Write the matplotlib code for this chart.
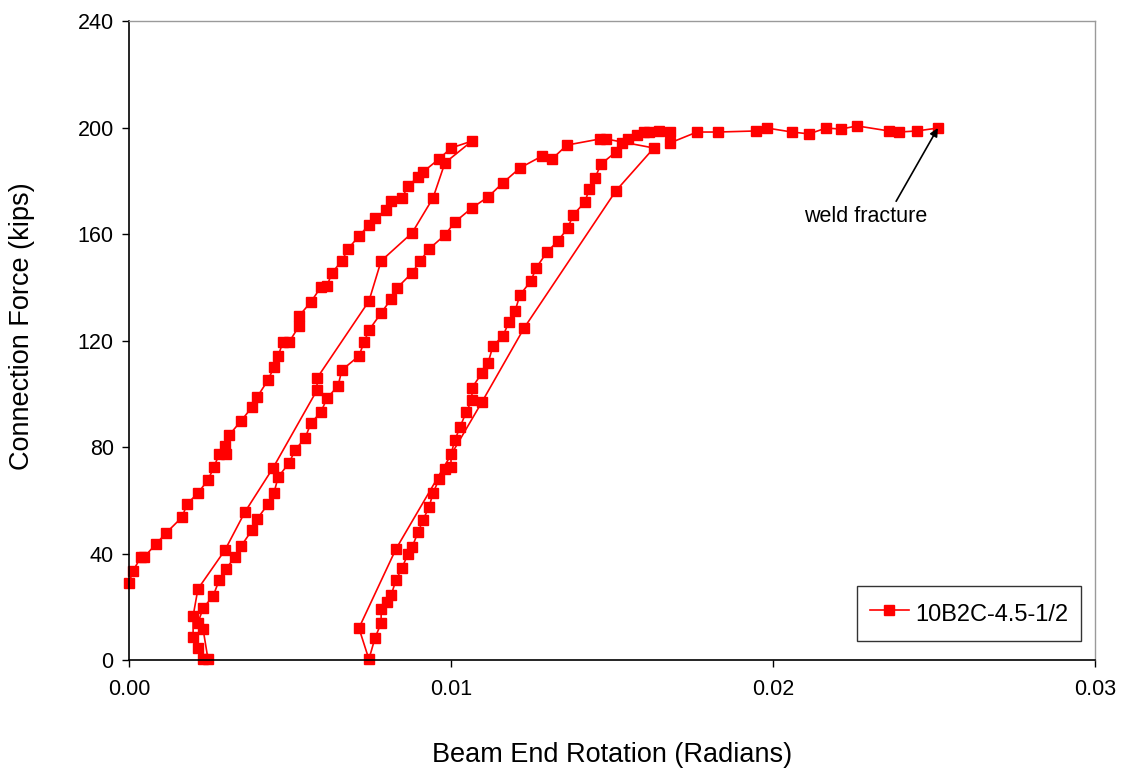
import matplotlib
matplotlib.use("Agg")
import matplotlib.pyplot as plt

# beam end rotation (rad) and connection force (kips)
rotation = [
    0.0, 0.00012, 0.00037, 0.00047, 0.00084, 0.00115, 0.00165, 0.00180, 0.00214, 0.00245,
    0.00264, 0.00280, 0.00301, 0.00298, 0.00311, 0.00348, 0.00382, 0.00398, 0.00432, 0.00450,
    0.00463, 0.00478, 0.00497, 0.00528, 0.00528, 0.00565, 0.00596, 0.00615, 0.00630, 0.00661,
    0.00680, 0.00714, 0.00745, 0.00764, 0.00798, 0.00814, 0.00848, 0.00866, 0.00898, 0.00913,
    0.00963, 0.01000, 0.01065,
    # unload 1
    0.00981, 0.00944, 0.00879, 0.00783, 0.00745, 0.00584, 0.00584, 0.00447, 0.00360, 0.00298,
    0.00214, 0.00199, 0.00199, 0.00214, 0.00230,
    # reload 2
    0.00245, 0.00230, 0.00214, 0.00230, 0.00261, 0.00280, 0.00301, 0.00329, 0.00348, 0.00382,
    0.00398, 0.00432, 0.00450, 0.00463, 0.00497, 0.00516, 0.00547, 0.00565, 0.00596, 0.00615,
    0.00649, 0.00661, 0.00714, 0.00730, 0.00745, 0.00783, 0.00814, 0.00832, 0.00879, 0.00904,
    0.00932, 0.00981, 0.01012, 0.01065, 0.01115, 0.01161, 0.01214, 0.01283, 0.01314, 0.01360,
    0.01463, 0.01481,
    # unload 2
    0.01630, 0.01512, 0.01227, 0.01096, 0.00829, 0.00714, 0.00745,
    # reload 3 and run to fracture
    0.00764, 0.00783, 0.00783, 0.00801, 0.00814, 0.00829, 0.00848, 0.00866, 0.00879, 0.00898,
    0.00913, 0.00932, 0.00944, 0.00963, 0.00981, 0.01000, 0.01000, 0.01012, 0.01028, 0.01047,
    0.01065, 0.01065, 0.01096, 0.01115, 0.01130, 0.01161, 0.01180, 0.01199, 0.01214, 0.01248,
    0.01264, 0.01298, 0.01332, 0.01363, 0.01379, 0.01416, 0.01429, 0.01447, 0.01466, 0.01512,
    0.01531, 0.01550, 0.01578, 0.01599, 0.01615, 0.01646, 0.01680, 0.01680, 0.01764, 0.01829,
    0.01947, 0.01981, 0.02059, 0.02112, 0.02165, 0.02211, 0.02261, 0.02360, 0.02391, 0.02447,
    0.02512,
]

force = [
    28.9, 33.4, 38.7, 38.7, 43.6, 47.7, 53.7, 58.6, 62.7, 67.6,
    72.5, 77.4, 77.4, 80.4, 84.5, 89.8, 95.0, 98.8, 105.2, 110.0,
    114.2, 119.4, 119.4, 125.4, 129.2, 134.5, 140.1, 140.5, 145.4, 149.9,
    154.4, 159.2, 163.4, 166.0, 169.0, 172.4, 173.5, 178.0, 181.4, 183.3,
    188.2, 192.3, 194.9,
    186.7, 173.5, 160.4, 149.9, 134.8, 105.9, 101.4, 72.1, 55.6, 41.3,
    26.7, 16.5, 8.6, 4.5, 0.5,
    0.5, 11.6, 13.9, 19.5, 24.0, 30.0, 34.2, 38.7, 42.8, 48.8,
    53.0, 58.6, 62.7, 68.7, 74.0, 78.9, 83.4, 89.0, 93.1, 98.4,
    102.9, 108.9, 114.2, 119.4, 123.9, 130.3, 135.6, 139.7, 145.4, 149.9,
    154.4, 159.6, 164.5, 169.8, 173.9, 179.2, 184.8, 189.3, 188.2, 193.4,
    195.7, 195.7,
    192.3, 176.2, 124.7, 96.9, 41.7, 12.0, 0.3,
    8.3, 13.9, 19.2, 21.8, 24.4, 30.0, 34.6, 39.8, 42.4, 48.1,
    52.6, 57.5, 62.7, 68.0, 71.7, 72.5, 77.4, 82.6, 87.5, 93.1,
    97.7, 102.2, 107.8, 111.5, 117.9, 121.7, 126.9, 131.1, 137.1, 142.3,
    147.2, 153.2, 157.4, 162.3, 167.1, 172.0, 176.9, 181.0, 186.3, 190.8,
    194.2, 195.7, 197.2, 198.3, 198.3, 198.7, 198.3, 194.2, 198.3, 198.3,
    198.7, 199.8, 198.3, 197.6, 199.8, 199.4, 200.6, 198.7, 198.3, 198.7,
    199.8,
]

x_ticks = [0.0, 0.01, 0.02, 0.03]
x_ticklabels = ["0.00", "0.01", "0.02", "0.03"]
y_ticks = [0, 40, 80, 120, 160, 200, 240]
series_name = "10B2C-4.5-1/2"

plt.rcParams["font.family"] = ["Liberation Sans", "DejaVu Sans"]

fig = plt.figure(figsize=(11.21, 7.69), dpi=100)
ax = fig.add_axes([0.1151, 0.1417, 0.8617, 0.8310])

ax.plot(rotation, force, color="#ff0000", linewidth=1.2, marker="s",
        markersize=7, markerfacecolor="#ff0000", markeredgecolor="#ff0000",
        label=series_name, clip_on=False)

ax.set_xlim(0, 0.03)
ax.set_ylim(0, 240)
ax.set_xticks(x_ticks)
ax.set_xticklabels(x_ticklabels)
ax.set_yticks(y_ticks)
ax.tick_params(direction="out", length=5, width=1, labelsize=15.5)
ax.tick_params(axis="x", pad=9)
ax.tick_params(axis="y", pad=6)

for side in ("top", "right"):
    ax.spines[side].set_color("#9a9a9a")
    ax.spines[side].set_linewidth(1)
for side in ("left", "bottom"):
    ax.spines[side].set_color("black")
    ax.spines[side].set_linewidth(1.2)

ax.set_xlabel("Beam End Rotation (Radians)", fontsize=19.5, va="center")
ax.set_ylabel("Connection Force (kips)", fontsize=19.5, va="center")
ax.xaxis.set_label_coords(0.5, -0.1487)
ax.yaxis.set_label_coords(-0.1108, 0.523)

ax.annotate("weld fracture", xy=(rotation[-1], force[-1]), xytext=(0.02289, 166.4),
            ha="center", va="center", fontsize=15.5,
            arrowprops=dict(arrowstyle="-|>", color="black", lw=1.2,
                            shrinkA=2, shrinkB=0, relpos=(0.72, 1.0),
                            mutation_scale=12))

leg = ax.legend(loc="lower right", bbox_to_anchor=(0.9855, 0.0297), fontsize=17,
                frameon=True, fancybox=False, borderpad=0.55, handlelength=1.65,
                handleheight=1.5, handletextpad=0.25, borderaxespad=0)
leg.get_frame().set_edgecolor("black")
leg.get_frame().set_linewidth(1)

fig.savefig("out.png", dpi=100)
